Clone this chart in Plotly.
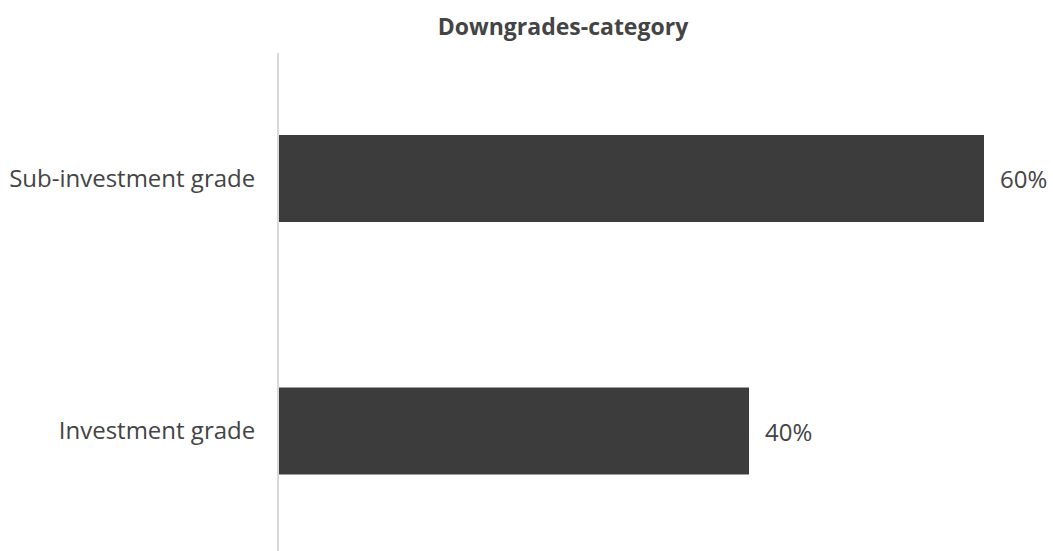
import plotly.graph_objects as go

categories = ["Investment grade", "Sub-investment grade"]
values = [40, 60]
labels = ["40%", "60%"]
title_text = "Downgrades-category"

bar_color = "#3c3c3c"
text_color = "#444444"
font_family = "Open Sans, sans-serif"

fig = go.Figure()
fig.add_trace(go.Bar(
    y=categories, x=values, orientation="h",
    marker=dict(color=bar_color, line=dict(width=0)),
    width=0.345, hoverinfo="skip",
))
for c, v, t in zip(categories, values, labels):
    fig.add_annotation(x=v, y=c, text=t, showarrow=False, xanchor="left",
                       xshift=14, font=dict(size=24, color=text_color, family=font_family))

fig.update_layout(
    width=1053, height=551,
    margin=dict(l=279, r=0, t=53, b=0),
    paper_bgcolor="white", plot_bgcolor="white",
    showlegend=False,
    title=dict(text="<b>" + title_text + "</b>", x=563/1053, xanchor="center",
               y=1 - 27/551, yanchor="middle", xref="container", yref="container",
               font=dict(size=23, color=text_color, family=font_family)),
    xaxis=dict(range=[0, 774/11.75], showgrid=False, zeroline=False,
               showticklabels=False, showline=False, ticks=""),
    yaxis=dict(range=[-0.475, 1.497], showgrid=False, zeroline=False,
               showline=True, linecolor="#d9d9d9", linewidth=2, ticks="",
               ticklabelstandoff=17,
               tickfont=dict(size=24, color=text_color, family=font_family)),
)
fig.write_html("out.html")
